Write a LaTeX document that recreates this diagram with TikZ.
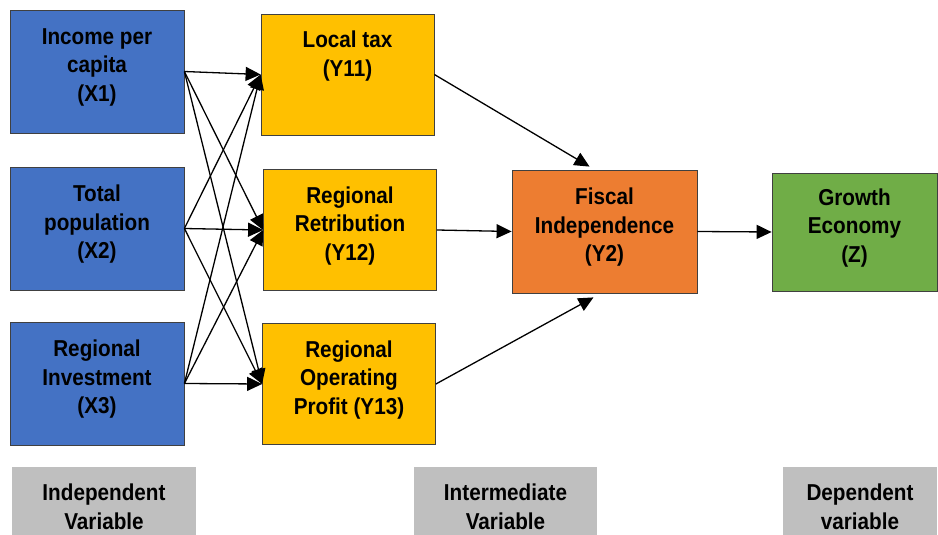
\documentclass[tikz,border=0pt]{standalone}
\usepackage{fontspec}
\setmainfont{Liberation Sans}[FakeStretch=0.9]
\usetikzlibrary{arrows.meta,positioning}
\definecolor{xblue}{HTML}{4472C4}
\definecolor{yyellow}{HTML}{FFC000}
\definecolor{yorange}{HTML}{ED7D31}
\definecolor{zgreen}{HTML}{70AD47}
\definecolor{capgray}{HTML}{BFBFBF}
\tikzstyle{var}=[rectangle,draw=black!75,line width=0.8pt,align=center,inner sep=2pt,text depth=13pt,font=\fontsize{23}{28.5}\selectfont\bfseries]
\tikzstyle{indep}=[var,fill=xblue,minimum width=174pt,minimum height=123pt]
\tikzstyle{inter}=[var,fill=yyellow,minimum width=173pt,minimum height=121pt]
\tikzstyle{fiscal}=[var,fill=yorange,minimum width=185pt,minimum height=123pt]
\tikzstyle{growth}=[var,fill=zgreen,minimum width=165pt,minimum height=118pt]
\tikzstyle{caption}=[rectangle,fill=capgray,align=center,inner sep=0pt,minimum height=80pt,font=\fontsize{23}{28.5}\selectfont\bfseries]
\tikzstyle{arr}=[draw,-{Triangle[length=15pt,width=14pt]},line width=1.3pt]

\begin{document}
\begin{tikzpicture}[x=1pt,y=-1pt]
      \path[use as bounding box,clip] (0,0) rectangle (938,535);
      % variables
      \node[indep] at (97, 71.5) (X1) {Income per\\capita\\(X1)};
      \node[indep] at (97,228.5) (X2) {Total\\population\\(X2)};
      \node[indep] at (97,383.5) (X3) {Regional\\Investment\\(X3)};
      \node[inter] at (347.5, 74.5) (Y11) {Local tax\\(Y11)\\\strut};
      \node[inter] at (350,230) (Y12) {Regional\\Retribution\\(Y12)};
      \node[inter] at (349,384) (Y13) {Regional\\Operating\\Profit (Y13)};
      \node[fiscal] at (604.5,231.5) (Y2) {Fiscal\\Independence\\(Y2)};
      \node[growth] at (854.5,232) (Z) {Growth\\Economy\\(Z)};
      % captions
      \node[caption,minimum width=184pt] at (104,507) (G1) {Independent\\Variable};
      \node[caption,minimum width=183pt] at (505.5,507) (G2) {Intermediate\\Variable};
      \node[caption,minimum width=154pt] at (860,507) (G3) {Dependent\\variable};
      % arrows
      \path (X1.east) edge[arr] (Y11.west) edge[arr] (Y12.west) edge[arr] (Y13.west);
      \path (X2.east) edge[arr] (Y11.west) edge[arr] (Y12.west) edge[arr] (Y13.west);
      \path (X3.east) edge[arr] (Y11.west) edge[arr] (Y12.west) edge[arr] (Y13.west);
      \draw[arr] (Y11.east) -- ([xshift=-15pt,yshift=3pt]Y2.north);
      \draw[arr] (Y12.east) -- (Y2.west);
      \draw[arr] (Y13.east) -- ([xshift=-11pt,yshift=-4pt]Y2.south);
      \draw[arr] (Y2.east) -- (Z.west);
\end{tikzpicture}
\end{document}
